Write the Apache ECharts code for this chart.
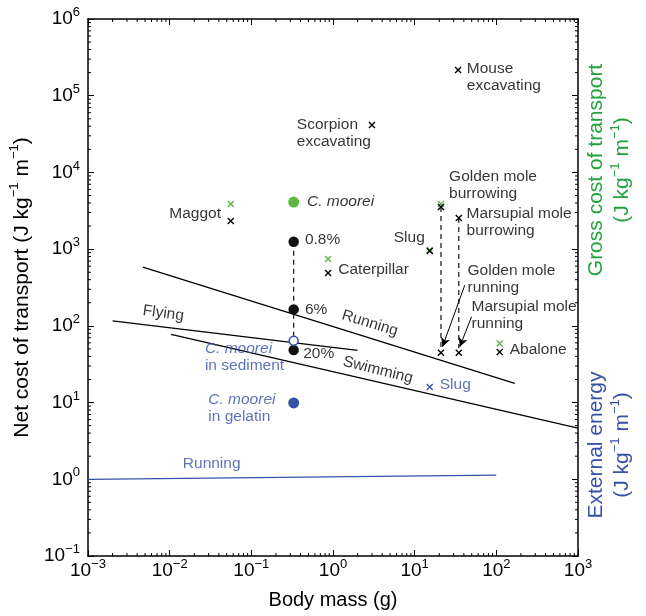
<!DOCTYPE html>
<html>
<head>
<meta charset="utf-8">
<script src="https://cdn.jsdelivr.net/npm/echarts@6/dist/echarts.min.js"></script>
<style>
html,body{margin:0;padding:0;background:#fff;}
#chart{width:646px;height:616px;}
</style>
</head>
<body>
<div id="chart"></div>
<script>
// ---------------- DATA ----------------
// tick exponents (labels are 10^exp)
const xTickExponents = [-3, -2, -1, 0, 1, 2, 3];
const yTickExponents = [-1, 0, 1, 2, 3, 4, 5, 6];

// Net cost of transport (black crosses): [body mass g, J kg-1 m-1]
const netCostNames = ['Maggot', 'Scorpion excavating', 'Mouse excavating', 'Caterpillar', 'Slug',
  'Golden mole burrowing', 'Marsupial mole burrowing', 'Golden mole running', 'Marsupial mole running', 'Abalone'];
const netCostMass = [0.056, 3.0, 34, 0.87, 15.3, 21, 34.7, 21, 34.7, 110];
const netCostValue = [2320, 41500, 216000, 488, 944, 3540, 2540, 44.6, 44.6, 45.5];

// Gross cost of transport (green crosses)
const grossNames = ['Maggot', 'Caterpillar', 'Slug', 'Golden mole burrowing', 'Abalone'];
const grossMass = [0.056, 0.87, 15.3, 21, 110];
const grossValue = [3870, 743, 975, 3870, 59];

// External energy (blue cross)
const extMass = [15.3];
const extValue = [16];

// C. moorei
const mooreiMass = 0.33;
const mooreiGross = [4110];                // green dot
const mooreiNet = [1250, 164, 48.3];       // black dots 0.8%, 6%, 20%
const mooreiSediment = [64];               // open blue circle
const mooreiGelatin = [9.9];               // filled blue circle

// Allometric lines: [mass, value] endpoints
const runningLine = [[0.0047, 585], [168, 17.8]];
const flyingLine = [[0.002, 116], [2.0, 48]];
const swimmingLine = [[0.0104, 77.5], [1000, 4.65]];
const externalRunningLine = [[0.001, 1.0], [100, 1.13]];

// Dashed connectors
const dashedConnectors = [
  [[0.33, 1250], [0.33, 64]],
  [[21, 3540], [21, 51]],
  [[34.7, 2540], [34.7, 51]]
];
// Arrows from labels to points
const arrows = [
  [[41.1, 340], [21.9, 53.4]],
  [[49.7, 131.5], [35.7, 53.4]]
];

// ---------------- STYLE ----------------
const GREEN = '#5cb946';
const GREEN_TEXT = '#22a23c';
const BLUE = '#3552a6';
const INK = '#000';
const FONT = '"Liberation Sans", Arial, Helvetica, sans-serif';
const crossPath = 'path://M0,0L10,10M10,0L0,10';

const sup = (b, e) => '{b|' + b + '}{s|' + e + '}';
const expStr = e => (e < 0 ? '\u2212' + Math.abs(e) : String(e));
const tickRich = {
  b: { fontSize: 19, lineHeight: 26, fontFamily: FONT, color: INK },
  s: { fontSize: 13, lineHeight: 14, verticalAlign: 'top', fontFamily: FONT, color: INK }
};
function tickFormatter(exps) {
  return function (v) {
    const e = Math.round(Math.log10(v));
    if (exps.indexOf(e) < 0) return '';
    return sup('10', expStr(e));
  };
}

// annotations: text, anchor (data coords), align, rotate, colour
const annotations = [
  { t: 'Mouse\nexcavating', at: [43.5, 1.75e5], align: 'left' },
  { t: 'Scorpion\nexcavating', at: [0.361, 3.21e4], align: 'left' },
  { t: 'Maggot', at: [0.0425, 2870], align: 'right' },
  { t: '{i|C. moorei}', at: [0.48, 4110], align: 'left' },
  { t: '0.8%', at: [0.453, 1314], align: 'left' },
  { t: 'Caterpillar', at: [1.16, 545], align: 'left' },
  { t: '6%', at: [0.453, 164], align: 'left' },
  { t: '20%', at: [0.431, 43.8], align: 'left' },
  { t: 'Running', at: [2.83, 108], align: 'center', rotate: -17 },
  { t: 'Swimming', at: [3.55, 26.5], align: 'center', rotate: -14 },
  { t: 'Flying', at: [0.00836, 145.6], align: 'center', rotate: -8 },
  { t: 'Slug', at: [13.3, 1396], align: 'right' },
  { t: 'Golden mole\nburrowing', at: [26.4, 6850], align: 'left' },
  { t: 'Marsupial mole\nburrowing', at: [43.2, 2222], align: 'left' },
  { t: 'Golden mole\nrunning', at: [44.4, 402], align: 'left' },
  { t: 'Marsupial mole\nrunning', at: [49.7, 137], align: 'left' },
  { t: 'Abalone', at: [146, 48.3], align: 'left' },
  { t: 'Slug', at: [20.3, 16.9], align: 'left', color: BLUE },
  { t: '{ib|C. moorei}\nin sediment', at: [0.027, 39.2], align: 'left', color: BLUE },
  { t: '{ib|C. moorei}\nin gelatin', at: [0.0297, 8.47], align: 'left', color: BLUE },
  { t: 'Running', at: [0.0327, 1.58], align: 'center', color: BLUE }
];

const zip = (a, b) => a.map((v, i) => [v, b[i]]);

const chart = echarts.init(document.getElementById('chart'), null, { renderer: 'canvas' });

const axisCommon = {
  type: 'log',
  logBase: 10,
  axisLine: { show: true, onZero: false, lineStyle: { color: INK, width: 1.5 } },
  axisTick: { show: true, inside: true, length: 6, lineStyle: { color: INK, width: 1 } },
  splitLine: { show: false },
  minorTick: { show: false },
  minorSplitLine: { show: false }
};

const minorTickSeries = {
  type: 'custom',
  xAxisIndex: 0,
  yAxisIndex: 0,
  silent: true,
  clip: false,
  z: 5,
  data: [[1, 1]],
  renderItem: function (params, api) {
    const children = [];
    const L = 3;
    const st = { stroke: INK, lineWidth: 1 };
    for (let k = -3; k < 3; k++) {
      for (let m = 2; m <= 9; m++) {
        const v = m * Math.pow(10, k);
        const pb = api.coord([v, 0.1]);
        const pt = api.coord([v, 1e6]);
        children.push({ type: 'line', shape: { x1: pb[0], y1: pb[1], x2: pb[0], y2: pb[1] - L }, style: st });
        children.push({ type: 'line', shape: { x1: pt[0], y1: pt[1], x2: pt[0], y2: pt[1] + L }, style: st });
      }
    }
    for (let k = -1; k < 6; k++) {
      for (let m = 2; m <= 9; m++) {
        const v = m * Math.pow(10, k);
        const pl = api.coord([0.001, v]);
        const pr = api.coord([1000, v]);
        children.push({ type: 'line', shape: { x1: pl[0], y1: pl[1], x2: pl[0] + L, y2: pl[1] }, style: st });
        children.push({ type: 'line', shape: { x1: pr[0], y1: pr[1], x2: pr[0] - L, y2: pr[1] }, style: st });
      }
    }
    return { type: 'group', children: children };
  }
};

function lineSeries(pts, color, dashed, width) {
  return {
    type: 'line',
    data: pts,
    showSymbol: false,
    symbol: 'none',
    silent: true,
    animation: false,
    lineStyle: { color: color, width: width || 1.3, type: dashed ? [5, 4] : 'solid' },
    z: 2
  };
}

const series = [
  lineSeries(runningLine, INK),
  lineSeries(flyingLine, INK),
  lineSeries(swimmingLine, INK),
  lineSeries(externalRunningLine, BLUE),
  ...dashedConnectors.map(d => lineSeries(d, '#111', true, 1.2)),
  {
    type: 'line', data: [], silent: true, animation: false,
    markLine: {
      silent: true, animation: false,
      symbol: ['none', 'arrow'], symbolSize: [7, 9],
      label: { show: false },
      lineStyle: { color: INK, width: 1, type: 'solid' },
      data: arrows.map(a => [{ coord: a[0] }, { coord: a[1] }])
    }
  },
  {
    type: 'scatter', name: 'net', symbol: crossPath, symbolSize: 6,
    itemStyle: { color: 'rgba(0,0,0,0)', borderColor: INK, borderWidth: 1.4, opacity: 1 },
    data: zip(netCostMass, netCostValue), z: 4, animation: false
  },
  {
    type: 'scatter', name: 'gross', symbol: crossPath, symbolSize: 6,
    itemStyle: { color: 'rgba(0,0,0,0)', borderColor: GREEN, borderWidth: 1.4, opacity: 1 },
    data: zip(grossMass, grossValue), z: 3, animation: false
  },
  {
    type: 'scatter', name: 'external', symbol: crossPath, symbolSize: 6,
    itemStyle: { color: 'rgba(0,0,0,0)', borderColor: BLUE, borderWidth: 1.4, opacity: 1 },
    data: zip(extMass, extValue), z: 4, animation: false
  },
  {
    type: 'scatter', symbol: 'circle', symbolSize: 11,
    itemStyle: { color: GREEN, opacity: 1 },
    data: mooreiGross.map(v => [mooreiMass, v]), z: 4, animation: false
  },
  {
    type: 'scatter', symbol: 'circle', symbolSize: 10.5,
    itemStyle: { color: '#111', opacity: 1 },
    data: mooreiNet.map(v => [mooreiMass, v]), z: 4, animation: false
  },
  {
    type: 'scatter', symbol: 'circle', symbolSize: 9,
    itemStyle: { color: '#fff', borderColor: BLUE, borderWidth: 1.5, opacity: 1 },
    data: mooreiSediment.map(v => [mooreiMass, v]), z: 5, animation: false
  },
  {
    type: 'scatter', symbol: 'circle', symbolSize: 11,
    itemStyle: { color: BLUE, opacity: 1 },
    data: mooreiGelatin.map(v => [mooreiMass, v]), z: 4, animation: false
  },
  {
    type: 'scatter', symbolSize: 0, silent: true, animation: false, z: 6,
    data: annotations.map(a => ({
      value: a.at,
      label: {
        show: true,
        position: 'inside',
        formatter: a.t,
        align: a.align,
        verticalAlign: 'middle',
        rotate: a.rotate || 0,
        color: a.color || INK,
        fontSize: 15.5,
        lineHeight: 17,
        fontFamily: FONT,
        rich: {
          i: { fontStyle: 'italic', fontSize: 15.5, fontFamily: FONT, color: INK, lineHeight: 17 },
          ib: { fontStyle: 'italic', fontSize: 15.5, fontFamily: FONT, color: BLUE, lineHeight: 17 }
        }
      }
    }))
  },
  minorTickSeries
];

const titleRich = {
  t: { fontSize: 21, fontFamily: FONT, color: INK, lineHeight: 30 },
  s: { fontSize: 13, fontFamily: FONT, color: INK, lineHeight: 14, verticalAlign: 'top' }
};

const option = {
  backgroundColor: '#fff',
  animation: false,
  grid: { left: 88, right: 68, top: 19, bottom: 60, containLabel: false, outerBoundsMode: 'none' },
  xAxis: [
    Object.assign({}, axisCommon, {
      position: 'bottom', min: 0.001, max: 1000, splitNumber: 6,
      name: 'Body mass (g)', nameLocation: 'middle', nameGap: 34,
      nameTextStyle: { fontSize: 20, fontFamily: FONT, color: INK },
      axisLabel: { show: true, margin: 2, formatter: tickFormatter(xTickExponents), rich: tickRich }
    }),
    Object.assign({}, axisCommon, {
      position: 'top', min: 0.001, max: 1000, splitNumber: 6,
      axisLabel: { show: false }
    })
  ],
  yAxis: [
    Object.assign({}, axisCommon, {
      position: 'left', min: 0.1, max: 1e6, splitNumber: 7,
      name: '{t|Net cost of transport (J kg}{s|\u22121}{t| m}{s|\u22121}{t|)}',
      nameLocation: 'middle', nameGap: 47, nameRotate: 90,
      nameTextStyle: { rich: titleRich },
      axisLabel: { show: true, margin: 8, formatter: tickFormatter(yTickExponents), rich: tickRich }
    }),
    Object.assign({}, axisCommon, {
      position: 'right', min: 0.1, max: 1e6, splitNumber: 7,
      axisLabel: { show: false }
    })
  ],
  graphic: [
    {
      type: 'text', x: 609, y: 170, rotation: Math.PI / 2,
      style: {
        text: '{t|Gross cost of transport}\n{t|(J kg}{s|\u22121}{t| m}{s|\u22121}{t|)}',
        align: 'center', verticalAlign: 'middle',
        rich: {
          t: { fontSize: 21, fontFamily: FONT, fill: GREEN_TEXT, lineHeight: 26 },
          s: { fontSize: 13, fontFamily: FONT, fill: GREEN_TEXT, lineHeight: 14, verticalAlign: 'top' }
        }
      }
    },
    {
      type: 'text', x: 609, y: 445, rotation: Math.PI / 2,
      style: {
        text: '{t|External energy}\n{t|(J kg}{s|\u22121}{t| m}{s|\u22121}{t|)}',
        align: 'center', verticalAlign: 'middle',
        rich: {
          t: { fontSize: 21, fontFamily: FONT, fill: BLUE, lineHeight: 26 },
          s: { fontSize: 13, fontFamily: FONT, fill: BLUE, lineHeight: 14, verticalAlign: 'top' }
        }
      }
    }
  ],
  series: series
};

chart.setOption(option);
</script>
</body>
</html>
